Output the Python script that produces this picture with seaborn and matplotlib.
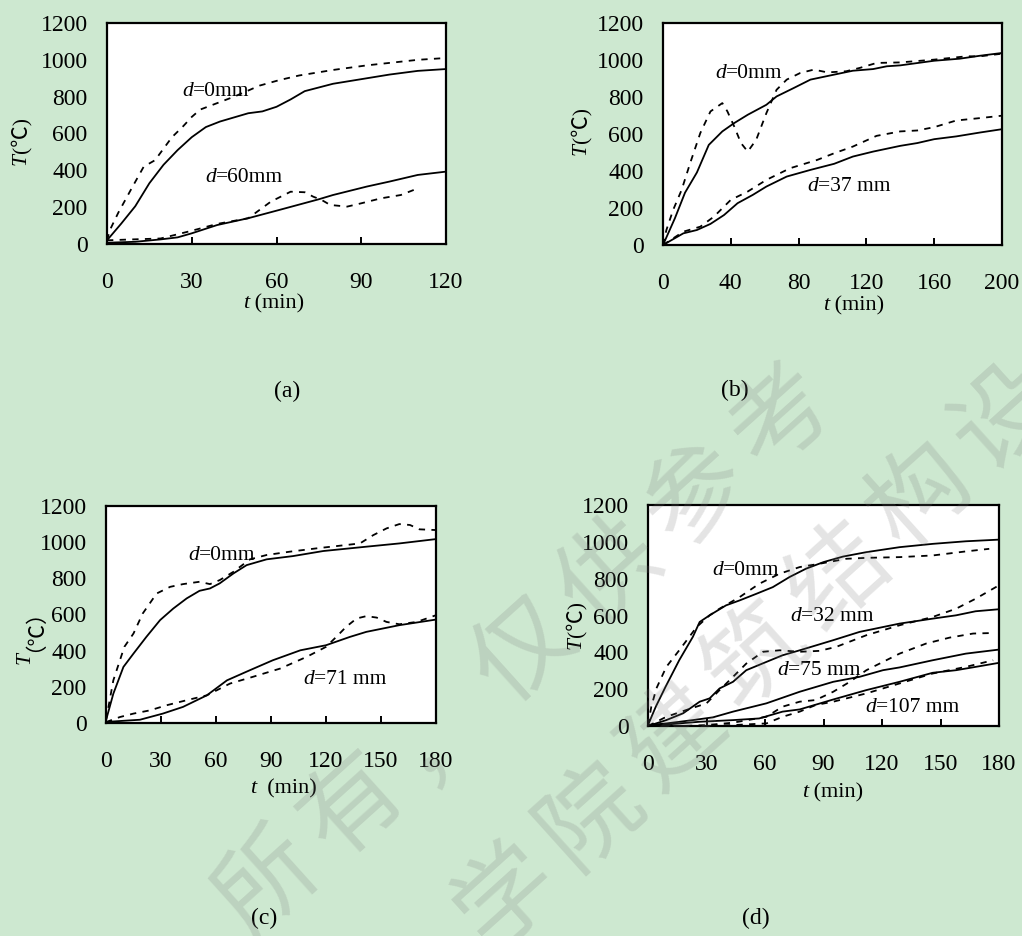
import numpy as np
import pandas as pd
import matplotlib
matplotlib.use("Agg")
import matplotlib.pyplot as plt
import seaborn as sns

# ---------------- data ----------------
# panel (a)
a_t0_s = [0, 5, 10, 15, 20, 25, 30, 35, 40, 50, 55, 60, 65, 70, 80, 90, 100, 110, 120]
a_T0_s = [20, 110, 205, 330, 430, 510, 580, 635, 665, 710, 720, 745, 785, 830, 870, 895, 920, 940, 950]
a_t0_d = [0, 1, 4, 9, 13, 17, 23, 27, 30, 33, 39, 45, 54, 61, 68, 80, 92, 104, 110, 120]
a_T0_d = [20, 75, 170, 310, 420, 455, 580, 640, 690, 730, 765, 800, 860, 890, 915, 945, 970, 990, 1000, 1010]
a_t60_s = [0, 10, 19, 25, 30, 39, 50, 61, 75, 80, 92, 100, 110, 120]
a_T60_s = [7, 12, 25, 36, 58, 103, 140, 185, 243, 266, 312, 339, 375, 393]
a_t60_d = [0, 9, 19, 30, 39, 50, 54, 58, 65, 70, 73, 76, 79, 85, 90, 97, 104, 110]
a_T60_d = [20, 25, 30, 72, 109, 140, 185, 230, 284, 281, 257, 239, 212, 203, 221, 248, 266, 302]

# panel (b)
b_t0_s = [0, 7, 13, 20, 27, 35, 42, 50, 61, 67, 77, 87, 101, 112, 124, 132, 140, 160, 175, 187, 200]
b_T0_s = [0, 144, 283, 392, 541, 614, 659, 704, 758, 803, 848, 894, 921, 942, 951, 966, 971, 996, 1007, 1023, 1038]
b_t0_d = [0, 2, 6, 11, 16, 22, 28, 35, 38, 42, 46, 50, 55, 61, 67, 73, 81, 89, 97, 108, 116, 126, 140, 160, 179, 187, 200]
b_T0_d = [0, 81, 190, 298, 442, 605, 722, 767, 722, 641, 551, 505, 569, 713, 839, 894, 930, 948, 933, 939, 957, 984, 987, 1002, 1020, 1020, 1034]
b_t37_s = [0, 12, 20, 28, 36, 44, 53, 61, 73, 87, 101, 112, 124, 140, 150, 160, 173, 187, 200]
b_T37_s = [0, 63, 81, 114, 162, 226, 271, 316, 370, 406, 439, 478, 505, 536, 551, 572, 587, 608, 626]
b_t37_d = [0, 12, 22, 30, 40, 50, 61, 75, 91, 101, 112, 126, 140, 150, 160, 173, 187, 200]
b_T37_d = [0, 72, 99, 153, 244, 289, 352, 415, 460, 496, 532, 590, 614, 619, 637, 673, 686, 699]

# panel (c)
c_t0_s = [0, 4, 9.5, 15, 22, 29.5, 36.7, 44, 51, 56.7, 62, 69.5, 76.7, 87.6, 102, 118.5, 142, 160, 180]
c_T0_s = [15, 162, 310, 384, 476, 569, 633, 689, 731, 744, 772, 827, 873, 905, 923, 951, 975, 993, 1017]
c_t0_d = [0, 4, 10, 15, 20, 27.6, 35, 42, 51, 56.7, 62, 69.5, 78.5, 87.6, 100, 115, 138.5, 145.8, 153, 160, 165.8, 171, 180]
c_T0_d = [15, 236, 421, 495, 605, 716, 753, 768, 781, 768, 790, 836, 905, 929, 947, 966, 993, 1039, 1076, 1100, 1095, 1071, 1067]
c_t71_s = [0, 18.5, 31, 42, 55, 66, 78.5, 91, 106, 120, 133, 142, 160, 180]
c_T71_s = [6, 18, 52, 89, 153, 236, 292, 347, 402, 430, 476, 504, 541, 572]
c_t71_d = [0, 7.6, 15, 24, 33, 44, 55, 67.6, 80, 95, 109.5, 120, 126, 131, 136.7, 142, 147.6, 153, 160, 169.5, 180]
c_T71_d = [5, 33, 52, 70, 98, 126, 153, 218, 255, 301, 366, 421, 480, 532, 578, 591, 583, 559, 546, 559, 596]

# panel (d)
d_t0_s = [0, 4, 9, 16, 23, 26.5, 31.6, 40, 47, 55.6, 64, 72.6, 81, 90, 100, 112, 129, 146, 163, 180]
d_T0_s = [5, 105, 213, 357, 484, 565, 601, 655, 682, 718, 754, 809, 854, 890, 920, 944, 971, 989, 1003, 1012]
d_t0_d = [0, 1.7, 4.3, 9.4, 16, 25, 31.6, 36.7, 47, 57, 67.5, 77.8, 88, 101.7, 112, 129, 146, 163, 175]
d_T0_d = [5, 105, 204, 321, 411, 538, 601, 637, 700, 772, 827, 863, 881, 908, 913, 917, 926, 948, 962]
d_t32_s = [0, 9.4, 18, 26.5, 31.6, 36.7, 43.6, 50.4, 60.7, 69, 77.8, 95, 108.5, 129, 146, 158, 168, 180]
d_T32_s = [0, 32, 69, 132, 150, 204, 240, 303, 348, 384, 411, 466, 511, 556, 583, 601, 623, 634]
d_t32_d = [0, 9.4, 19.7, 30, 36.7, 43.6, 50.4, 59, 67.5, 77.8, 88, 96.6, 112, 129, 146, 158, 168, 180]
d_T32_d = [0, 50, 87, 123, 195, 267, 339, 403, 411, 403, 408, 430, 493, 547, 592, 637, 691, 764]
d_t75_s = [0, 9.4, 23, 33.3, 43.6, 60.7, 77.8, 95, 108.5, 120.5, 129, 146, 163, 180]
d_T75_s = [5, 14, 32, 47, 78, 123, 186, 240, 267, 303, 318, 357, 393, 415]
d_t75_d = [0, 18, 30, 43.6, 60.7, 69, 77.8, 86, 95, 103.5, 112, 120.5, 129, 142.7, 154.7, 166.7, 177]
d_T75_d = [0, 0, 5, 18, 50, 105, 132, 141, 186, 240, 303, 348, 393, 448, 480, 502, 505]
d_t107_s = [0, 26.5, 43.6, 57, 69, 77.8, 95, 112, 129, 146, 158, 168, 180]
d_T107_s = [0, 23, 32, 41, 78, 90, 144, 195, 240, 289, 303, 321, 343]
d_t107_d = [0, 26.5, 43.6, 60.7, 69, 77.8, 86, 95, 112, 129, 146, 163, 177]
d_T107_d = [0, 0, 5, 14, 50, 78, 114, 132, 177, 231, 285, 321, 357]

x_ticks_a = [0, 30, 60, 90, 120]
x_ticks_b = [0, 40, 80, 120, 160, 200]
x_ticks_cd = [0, 30, 60, 90, 120, 150, 180]
y_ticks = [0, 200, 400, 600, 800, 1000, 1200]

captions = ["(a)", "(b)", "(c)", "(d)"]

# ---------------- style ----------------
sns.set_theme(style="white")
plt.rcParams["font.family"] = ["Liberation Serif", "Noto Sans CJK SC", "DejaVu Sans"]

W, H = 1022, 936
BG = "#cde8d0"
fig = plt.figure(figsize=(W / 100, H / 100), dpi=100, facecolor=BG)


def px_rect(l, t, r, b):
    return [l / W, 1 - b / H, (r - l) / W, (b - t) / H]


def fpos(x, y):
    return (x / W, 1 - y / H)


DASH = (0, (3.5, 3.5))
LW = 1.3


def draw(ax, t, T, dashed):
    sns.lineplot(x=t, y=T, ax=ax, color="black", lw=LW, estimator=None, sort=False,
                 linestyle=DASH if dashed else "-")


def rich(parts, x, y, size, rot=False, target=None):
    # parts: list of (text, italic); chained so each piece follows the previous
    kw = dict(fontsize=size, color="black")
    s0, it0 = parts[0]
    if target is None:
        if rot:
            t = fig.text(x, y, s0, rotation=90, ha="right", va="bottom",
                         style="italic" if it0 else "normal", **kw)
        else:
            t = fig.text(x, y, s0, ha="left", va="bottom",
                         style="italic" if it0 else "normal", **kw)
    else:
        t = target.text(x, y, s0, ha="left", va="bottom",
                        style="italic" if it0 else "normal", **kw)
    for s, it in parts[1:]:
        if rot:
            t = fig.axes[0].annotate(s, xy=(1, 1), xycoords=t, rotation=90, ha="right",
                                     va="bottom", style="italic" if it else "normal",
                                     annotation_clip=False, **kw)
        else:
            t = (target if target is not None else fig.axes[0]).annotate(
                s, xy=(1, 0), xycoords=t, ha="left", va="bottom",
                style="italic" if it else "normal", annotation_clip=False, **kw)
    return t


def style_ax(ax, xmax, xticks):
    ax.set_facecolor("white")
    ax.set_xlim(0, xmax)
    ax.set_ylim(0, 1200)
    ax.set_xticks(xticks)
    ax.set_yticks(y_ticks)
    ax.set_xlabel("")
    ax.set_ylabel("")
    for sp in ax.spines.values():
        sp.set_visible(True)
        sp.set_color("black")
        sp.set_linewidth(1.6)
    ax.tick_params(axis="x", direction="in", length=5, width=1.4, color="black",
                   labelsize=17, pad=20, bottom=True)
    ax.tick_params(axis="y", length=0, labelsize=17, pad=14, left=True)
    for lab in ax.get_xticklabels() + ax.get_yticklabels():
        lab.set_color("black")


# panel (a)
axA = fig.add_axes(px_rect(107, 23, 446, 244))
draw(axA, a_t0_s, a_T0_s, False)
draw(axA, a_t0_d, a_T0_d, True)
draw(axA, a_t60_s, a_T60_s, False)
draw(axA, a_t60_d, a_T60_d, True)
style_ax(axA, 120, x_ticks_a)

# panel (b)
axB = fig.add_axes(px_rect(663, 23, 1002, 245))
draw(axB, b_t0_s, b_T0_s, False)
draw(axB, b_t0_d, b_T0_d, True)
draw(axB, b_t37_s, b_T37_s, False)
draw(axB, b_t37_d, b_T37_d, True)
style_ax(axB, 200, x_ticks_b)

# panel (c)
axC = fig.add_axes(px_rect(106, 506, 436, 723))
draw(axC, c_t0_s, c_T0_s, False)
draw(axC, c_t0_d, c_T0_d, True)
draw(axC, c_t71_s, c_T71_s, False)
draw(axC, c_t71_d, c_T71_d, True)
style_ax(axC, 180, x_ticks_cd)

# panel (d)
axD = fig.add_axes(px_rect(648, 505, 999, 726))
draw(axD, d_t0_s, d_T0_s, False)
draw(axD, d_t0_d, d_T0_d, True)
draw(axD, d_t32_s, d_T32_s, False)
draw(axD, d_t32_d, d_T32_d, True)
draw(axD, d_t75_s, d_T75_s, False)
draw(axD, d_t75_d, d_T75_d, True)
draw(axD, d_t107_s, d_T107_s, False)
draw(axD, d_t107_d, d_T107_d, True)
style_ax(axD, 180, x_ticks_cd)

# curve labels (data coords)
LS = 15.5
rich([("d", True), ("=0mm", False)], 26.5, 776, LS, target=axA)
rich([("d", True), ("=60mm", False)], 34.7, 309, LS, target=axA)
rich([("d", True), ("=0mm", False)], 30.7, 876, LS, target=axB)
rich([("d", True), ("=37 mm", False)], 85, 265, LS, target=axB)
rich([("d", True), ("=0mm", False)], 44.7, 874, LS, target=axC)
rich([("d", True), ("=71 mm", False)], 107.5, 188, LS, target=axC)
rich([("d", True), ("=0mm", False)], 32.8, 793, LS, target=axD)
rich([("d", True), ("=32 mm", False)], 72.8, 543, LS, target=axD)
rich([("d", True), ("=75 mm", False)], 66.2, 250, LS, target=axD)
rich([("d", True), ("=107 mm", False)], 111.3, 49, LS, target=axD)

# axis labels (figure pixel positions)
AL = 16
x0, y0 = fpos(243, 313)
rich([("t", True), (" (min)", False)], x0, y0, AL)
x0, y0 = fpos(823, 315)
rich([("t", True), (" (min)", False)], x0, y0, AL)
x0, y0 = fpos(250, 798)
rich([("t", True), ("  (min)", False)], x0, y0, AL)
x0, y0 = fpos(802, 802)
rich([("t", True), (" (min)", False)], x0, y0, AL)

YL = 15.5
x0, y0 = fpos(31, 165)
rich([("T", True), ("(℃)", False)], x0, y0, YL, rot=True)
x0, y0 = fpos(591, 155)
rich([("T", True), ("(℃)", False)], x0, y0, YL, rot=True)
x0, y0 = fpos(35, 664)
rich([("T", True), ("（℃）", False)], x0, y0, YL, rot=True)
x0, y0 = fpos(586, 649)
rich([("T", True), ("(℃)", False)], x0, y0, YL, rot=True)

# captions
for cap, (cx, cy) in zip(captions, [(287, 391), (735, 390), (264, 918), (756, 918)]):
    fx, fy = fpos(cx, cy)
    fig.text(fx, fy, cap, ha="center", va="center", fontsize=17, color="black")

# watermark (only the characters that fall on the page)
wm_font = ["Noto Sans CJK SC"]
line1 = "所有，仅供参考"
line2 = "学院建筑结构设"
ang = 42
for text, start, step in [(line1, (267, 884), (85.8, -77.7)),
                          (line2, (508, 896), (82.7, -79.7))]:
    for i, ch in enumerate(text):
        cx = start[0] + step[0] * i
        cy = start[1] + step[1] * i
        fx, fy = fpos(cx, cy)
        fig.text(fx, fy, ch, ha="center", va="center", rotation=ang, fontsize=72,
                 family=wm_font, color="#7a7a7a", alpha=0.2, zorder=50)

fig.savefig("out.png", dpi=100, facecolor=BG)
